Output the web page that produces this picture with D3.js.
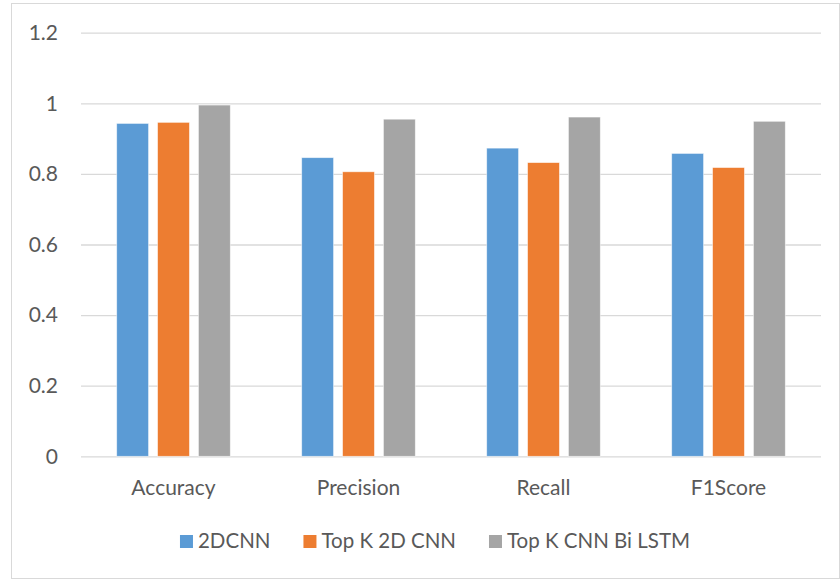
<!DOCTYPE html>
<html>
<head>
<meta charset="utf-8">
<script src="https://cdn.jsdelivr.net/npm/d3@7"></script>
<style>
  html, body { margin: 0; padding: 0; background: #fff; }
  svg text { font-family: Lato, "Open Sans", sans-serif; fill: #595959; }
</style>
</head>
<body>
<svg id="chart" width="840" height="581"></svg>
<script>
// Metric names along the x axis
const categories = ["Accuracy", "Precision", "Recall", "F1Score"];
// Model names, in legend order
const seriesNames = ["2DCNN", "Top K 2D CNN", "Top K CNN Bi LSTM"];
// Scores per model, one per metric
const cnn2d = [0.943, 0.846, 0.873, 0.858];
const topK2dCnn = [0.946, 0.806, 0.832, 0.818];
const topKCnnBiLstm = [0.995, 0.955, 0.961, 0.949];
// Y axis ticks
const yTicks = [0, 0.2, 0.4, 0.6, 0.8, 1, 1.2];
const yTickLabels = ["0", "0.2", "0.4", "0.6", "0.8", "1", "1.2"];

const seriesValues = [cnn2d, topK2dCnn, topKCnnBiLstm];
const colors = ["#5b9bd5", "#ed7d31", "#a5a5a5"];

const svg = d3.select("#chart");

// chart frame
svg.append("rect")
  .attr("x", 11.5).attr("y", 3.5)
  .attr("width", 828).attr("height", 575)
  .attr("fill", "#fff")
  .attr("stroke", "#d9d9d9")
  .attr("stroke-width", 1);

const plot = { left: 81, right: 821, top: 32.7, bottom: 456.3 };

const y = d3.scaleLinear().domain([0, 1.2]).range([plot.bottom, plot.top]);
const x0 = d3.scaleBand().domain(categories)
  .range([plot.left, plot.right])
  .paddingInner(0.386).paddingOuter(0.193);
const x1 = d3.scaleBand().domain(seriesNames)
  .range([0, x0.bandwidth()])
  .paddingInner(0.22);

// gridlines
const yAxis = d3.axisLeft(y)
  .tickValues(yTicks)
  .tickFormat((d, i) => yTickLabels[i])
  .tickSize(-(plot.right - plot.left))
  .tickPadding(23);

const gy = svg.append("g")
  .attr("transform", `translate(${plot.left},0)`)
  .call(yAxis);
gy.select(".domain").remove();
gy.selectAll(".tick line").attr("stroke", "#d9d9d9").attr("stroke-width", 1.3);
gy.selectAll(".tick text")
  .attr("font-size", 21)
  .attr("fill", "#595959")
  .style("font-family", "Lato, 'Open Sans', sans-serif");

// bars
const rows = categories.map((c, ci) => ({
  category: c,
  values: seriesNames.map((s, si) => ({ series: s, index: si, value: seriesValues[si][ci] }))
}));

const groups = svg.append("g").selectAll("g")
  .data(rows).join("g")
  .attr("transform", d => `translate(${x0(d.category)},0)`);

groups.selectAll("rect")
  .data(d => d.values).join("rect")
  .attr("x", d => x1(d.series))
  .attr("y", d => y(d.value))
  .attr("width", x1.bandwidth())
  .attr("height", d => y(0) - y(d.value))
  .attr("fill", d => colors[d.index])
  .attr("stroke", "#ffffff")
  .attr("stroke-opacity", 0.6)
  .attr("stroke-width", 0.8);

// category labels
const xAxis = d3.axisBottom(x0).tickSize(0).tickPadding(24);
const gx = svg.append("g")
  .attr("transform", `translate(0,${plot.bottom})`)
  .call(xAxis);
gx.select(".domain").remove();
gx.selectAll(".tick text")
  .attr("font-size", 21)
  .attr("fill", "#595959")
  .style("font-family", "Lato, 'Open Sans', sans-serif");

// legend
const legend = svg.append("g");
const items = legend.selectAll("g").data(seriesNames).join("g");
items.append("rect")
  .attr("width", 13).attr("height", 13)
  .attr("y", -13)
  .attr("fill", (d, i) => colors[i]);
items.append("text")
  .attr("x", 18)
  .attr("y", 0)
  .attr("font-size", 20.5)
  .text(d => d);

const gap = 33;
let offset = 0;
items.each(function () {
  const g = d3.select(this);
  g.attr("transform", `translate(${offset},0)`);
  const w = 18 + g.select("text").node().getComputedTextLength();
  offset += w + gap;
});
const legendWidth = offset - gap;
legend.attr("transform", `translate(${435 - legendWidth / 2},548)`);
</script>
</body>
</html>
